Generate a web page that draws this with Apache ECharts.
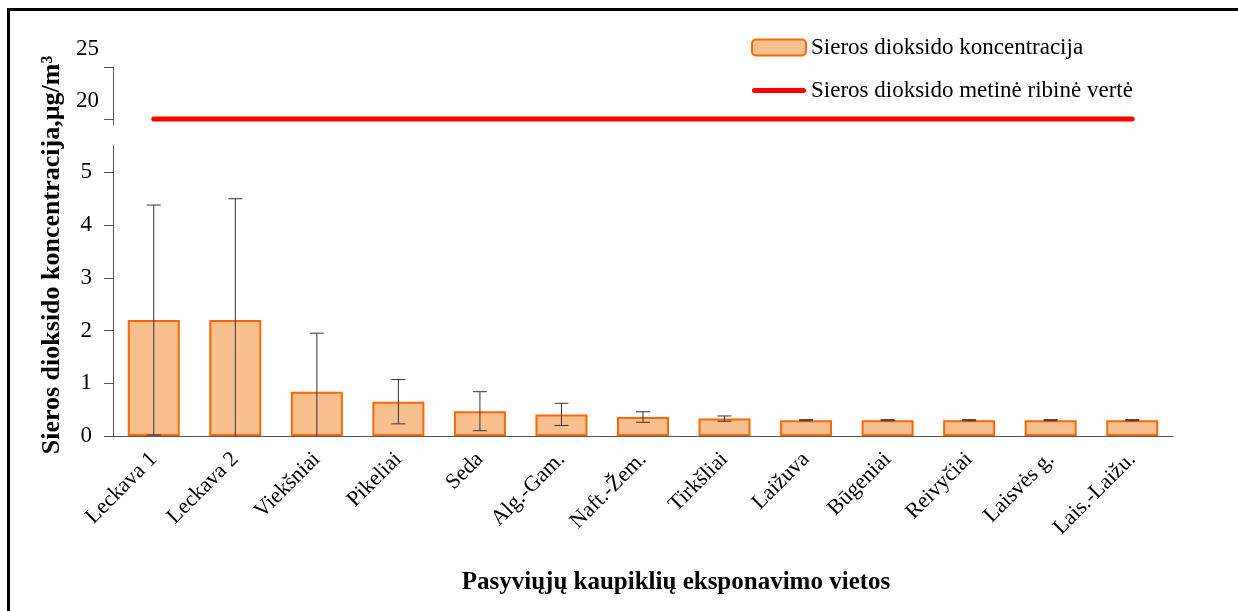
<!DOCTYPE html>
<html>
<head>
<meta charset="utf-8">
<script src="https://cdn.jsdelivr.net/npm/echarts@6/dist/echarts.min.js"></script>
<style>
  html, body { margin: 0; padding: 0; background: #fff; }
  #chart { width: 1238px; height: 611px; }
</style>
</head>
<body>
<div id="chart"></div>
<script>
// vietos
const categories = ['Leckava 1', 'Leckava 2', 'Viekšniai', 'Pikeliai', 'Seda', 'Alg.-Gam.', 'Naft.-Žem.',
  'Tirkšliai', 'Laižuva', 'Būgeniai', 'Reivyčiai', 'Laisvės g.', 'Lais.-Laižu.']
// koncentracija, ug/m3
const concentration = [2.20, 2.20, 0.84, 0.65, 0.47, 0.41, 0.36, 0.33, 0.30, 0.30, 0.30, 0.30, 0.30]
// paklaida (+/-)
const errorSize = [2.18, 2.30, 1.11, 0.42, 0.37, 0.21, 0.10, 0.05, 0.01, 0.01, 0.01, 0.01, 0.01]
// metine ribine verte
const limitValue = [20, 20, 20, 20, 20, 20, 20, 20, 20, 20, 20, 20, 20]
const lowerTicks = [0, 1, 2, 3, 4, 5]
const upperTicks = [20, 25]

const serif = '"Liberation Serif", "DejaVu Serif", serif'
const axisColor = '#555'

const chart = echarts.init(document.getElementById('chart'))

const errorData = concentration.map((v, i) => [i, v - errorSize[i], v + errorSize[i]])

// raudona linija legendoje
const lineIcon = 'path://M0,0 L0,0 M54,16 L54,16 M2.5,5.5 L51.5,5.5 A2.5,2.5 0 0 1 51.5,10.5 L2.5,10.5 A2.5,2.5 0 0 1 2.5,5.5 Z'

chart.setOption({
  animation: false,
  textStyle: { fontFamily: serif, color: '#000' },
  grid: [
    { left: 113, right: 65, top: 67, bottom: 486 },
    { left: 113, right: 65, top: 146, bottom: 175 }
  ],
  legend: {
    orient: 'vertical',
    left: 746,
    top: 31,
    itemWidth: 54,
    itemHeight: 16,
    itemGap: 20,
    textStyle: { fontFamily: serif, fontSize: 23, color: '#000' },
    data: [
      { name: 'Sieros dioksido koncentracija' },
      { name: 'Sieros dioksido metinė ribinė vertė', icon: lineIcon, itemStyle: { color: '#FF0000', borderWidth: 0 } }
    ]
  },
  xAxis: [
    {
      gridIndex: 0,
      type: 'category',
      data: categories,
      show: false
    },
    {
      gridIndex: 1,
      type: 'category',
      data: categories,
      axisLine: { lineStyle: { color: axisColor } },
      axisTick: { length: 8, lineStyle: { color: axisColor } },
      axisLabel: { rotate: 45, margin: 20, fontSize: 22, fontFamily: serif, color: '#000', interval: 0 },
      name: 'Pasyviųjų kaupiklių eksponavimo vietos',
      nameLocation: 'middle',
      nameGap: 134,
      nameTextStyle: { fontFamily: serif, fontSize: 25, fontWeight: 'bold', color: '#000', padding: [0, 0, 0, 66] }
    }
  ],
  yAxis: [
    {
      gridIndex: 0,
      type: 'value',
      min: 19.42,
      max: 25,
      splitLine: { show: false },
      axisLine: { show: true, lineStyle: { color: axisColor } },
      axisTick: { show: true, length: 9, customValues: upperTicks, lineStyle: { color: axisColor } },
      axisLabel: {
        customValues: upperTicks,
        fontSize: 23, fontFamily: serif, color: '#000',
        margin: 14,
        verticalAlign: 'bottom',
        padding: [0, 0, 7, 0]
      }
    },
    {
      gridIndex: 1,
      type: 'value',
      min: 0,
      max: 5.5,
      splitLine: { show: false },
      axisLine: { show: true, lineStyle: { color: axisColor } },
      axisTick: { show: true, length: 9, customValues: lowerTicks, lineStyle: { color: axisColor } },
      axisLabel: { customValues: lowerTicks, fontSize: 23, fontFamily: serif, color: '#000', margin: 21 }
    }
  ],
  series: [
    {
      name: 'Sieros dioksido koncentracija',
      type: 'bar',
      xAxisIndex: 1,
      yAxisIndex: 1,
      barWidth: 52,
      data: concentration,
      itemStyle: { color: '#F9C08F', borderColor: '#FF6600', borderWidth: 2 }
    },
    {
      name: 'paklaida',
      type: 'custom',
      xAxisIndex: 1,
      yAxisIndex: 1,
      clip: true,
      z: 5,
      data: errorData,
      renderItem: (params, api) => {
        const x = api.value(0)
        const lo = api.coord([x, api.value(1)])
        const hi = api.coord([x, api.value(2)])
        const cap = 7
        const style = { stroke: '#333', lineWidth: 1 }
        return {
          type: 'group',
          children: [
            { type: 'line', shape: { x1: hi[0], y1: hi[1], x2: lo[0], y2: lo[1] }, style },
            { type: 'line', shape: { x1: hi[0] - cap, y1: hi[1], x2: hi[0] + cap, y2: hi[1] }, style },
            { type: 'line', shape: { x1: lo[0] - cap, y1: lo[1], x2: lo[0] + cap, y2: lo[1] }, style }
          ]
        }
      }
    },
    {
      name: 'Sieros dioksido metinė ribinė vertė',
      type: 'line',
      xAxisIndex: 0,
      yAxisIndex: 0,
      data: limitValue,
      symbol: 'none',
      lineStyle: { color: '#FF0000', width: 5, cap: 'round' },
      itemStyle: { color: '#FF0000' }
    }
  ],
  graphic: [
    {
      type: 'rect',
      shape: { x: 8.5, y: 9.5, width: 1400, height: 800 },
      style: { fill: 'none', stroke: '#000', lineWidth: 3 },
      silent: true
    },
    {
      type: 'text',
      x: 52,
      y: 255,
      rotation: Math.PI / 2,
      style: {
        text: 'Sieros dioksido koncentracija,µg/m³',
        font: 'bold 26px ' + serif,
        fill: '#000',
        align: 'center',
        verticalAlign: 'middle'
      }
    }
  ]
})
</script>
</body>
</html>
